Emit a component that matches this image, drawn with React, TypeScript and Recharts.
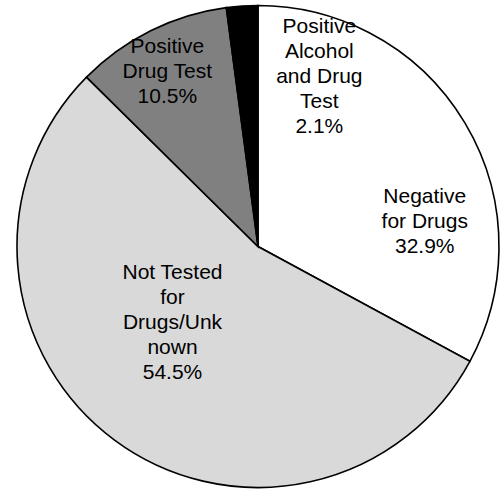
import React from "react";
import { PieChart, Pie, Cell } from "recharts";

const categories = [
  "Negative for Drugs",
  "Not Tested for Drugs/Unknown",
  "Positive Drug Test",
  "Positive Alcohol and Drug Test",
];
const values = [32.9, 54.5, 10.5, 2.1];
const labelLines = [
  ["Negative", "for Drugs"],
  ["Not Tested", "for", "Drugs/Unk", "nown"],
  ["Positive", "Drug Test"],
  ["Positive", "Alcohol", "and Drug", "Test"],
];

const COLORS = ["#FFFFFF", "#D9D9D9", "#808080", "#000000"];
// label anchor: [angle (deg, ccw from east), radius fraction]
const LABEL_ANCHORS: [number, number][] = [
  [8.7, 0.7],
  [221.4, 0.473],
  [117.3, 0.82],
  [70.3, 0.755],
];

const data = categories.map((name, i) => ({ name, value: values[i] }));

const RAD = Math.PI / 180;
const LINE_H = 25;

const renderLabel = (props: any) => {
  const { cx, cy, outerRadius, index, value } = props;
  const [ang, frac] = LABEL_ANCHORS[index];
  const r = outerRadius * frac;
  const x = cx + r * Math.cos(ang * RAD);
  const y = cy - r * Math.sin(ang * RAD);
  const lines = [...labelLines[index], `${value.toFixed(1)}%`];
  const y0 = y - ((lines.length - 1) / 2) * LINE_H;
  return (
    <text
      key={`lbl-${index}`}
      textAnchor="middle"
      fill="#000"
      fontFamily="'Liberation Sans', Arial, sans-serif"
      fontSize={21}
    >
      {lines.map((t, i) => (
        <tspan key={i} x={x} y={y0 + i * LINE_H} dominantBaseline="central">
          {t}
        </tspan>
      ))}
    </text>
  );
};

export default function App() {
  return (
    <div style={{ position: "absolute", left: 0, top: 0, width: 503, height: 489, background: "#fff" }}>
      <PieChart width={503} height={489} margin={{ top: 0, right: 0, bottom: 0, left: 0 }}>
        <Pie
          data={data}
          dataKey="value"
          nameKey="name"
          cx={258}
          cy={246.5}
          outerRadius={241}
          startAngle={90}
          endAngle={-270}
          stroke="#000"
          strokeWidth={1.6}
          label={renderLabel}
          labelLine={false}
          isAnimationActive={false}
        >
          {data.map((d, i) => (
            <Cell key={d.name} fill={COLORS[i]} />
          ))}
        </Pie>
      </PieChart>
    </div>
  );
}
